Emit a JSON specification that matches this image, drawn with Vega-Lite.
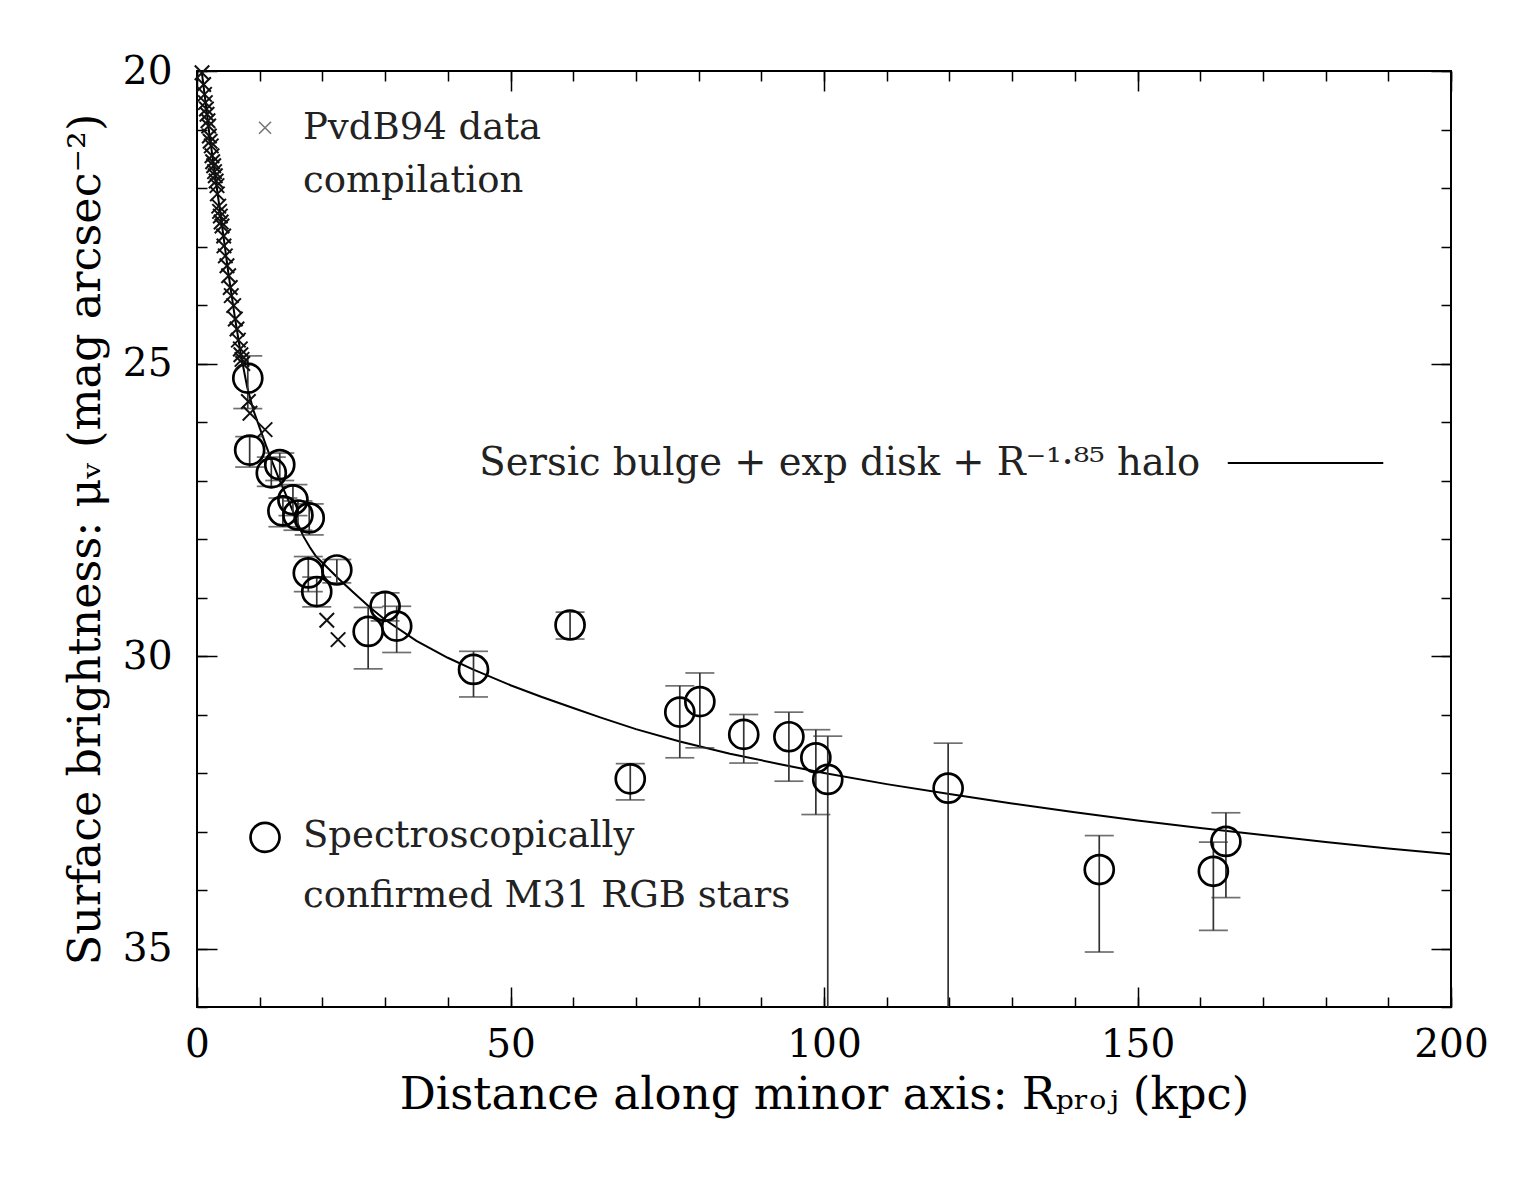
{
  "$schema": "https://vega.github.io/schema/vega-lite/v6.json",
  "width": 1254,
  "height": 936,
  "autosize": {"type": "none"},
  "padding": {"left": 197, "top": 71, "right": 88, "bottom": 171},
  "background": "white",
  "config": {
    "view": {"stroke": "black", "strokeWidth": 2},
    "font": "DejaVu Serif",
    "axis": {"domain": false, "grid": false, "tickColor": "black", "tickWidth": 1.5, "labelFlush": false, "labelOverlap": false}
  },
  "datasets": {
    "model": [
      {"R": 0.3, "mu": 19.6}, {"R": 0.8, "mu": 20.05}, {"R": 1.5, "mu": 20.65}, {"R": 2, "mu": 21.1},
      {"R": 3, "mu": 21.87}, {"R": 4, "mu": 22.65}, {"R": 5, "mu": 23.45}, {"R": 6, "mu": 24.18},
      {"R": 7, "mu": 24.85}, {"R": 8, "mu": 25.4}, {"R": 9, "mu": 25.8}, {"R": 10, "mu": 26.1},
      {"R": 11, "mu": 26.4}, {"R": 12, "mu": 26.68}, {"R": 13, "mu": 26.95}, {"R": 14, "mu": 27.2},
      {"R": 15, "mu": 27.45}, {"R": 16, "mu": 27.72}, {"R": 17, "mu": 27.96}, {"R": 18, "mu": 28.14},
      {"R": 19, "mu": 28.3}, {"R": 20.7, "mu": 28.48}, {"R": 22.5, "mu": 28.67}, {"R": 25, "mu": 28.92},
      {"R": 27.6, "mu": 29.17}, {"R": 30, "mu": 29.38}, {"R": 35, "mu": 29.74}, {"R": 40, "mu": 30.03},
      {"R": 44, "mu": 30.23}, {"R": 50, "mu": 30.5}, {"R": 55, "mu": 30.7}, {"R": 60, "mu": 30.89},
      {"R": 64.3, "mu": 31.05}, {"R": 70, "mu": 31.25}, {"R": 77, "mu": 31.46}, {"R": 85, "mu": 31.67},
      {"R": 93, "mu": 31.85}, {"R": 100, "mu": 32.0}, {"R": 110, "mu": 32.19}, {"R": 120, "mu": 32.36},
      {"R": 130, "mu": 32.52}, {"R": 140, "mu": 32.67}, {"R": 150, "mu": 32.81}, {"R": 160, "mu": 32.94},
      {"R": 170, "mu": 33.06}, {"R": 180, "mu": 33.18}, {"R": 190, "mu": 33.29}, {"R": 200, "mu": 33.39}
    ],
    "stars": [
      {"R": 8.1, "mu": 25.25, "hi": 24.87, "lo": 25.77},
      {"R": 8.4, "mu": 26.48, "hi": 26.25, "lo": 26.77},
      {"R": 13.2, "mu": 26.73, "hi": 26.53, "lo": 27.0},
      {"R": 11.85, "mu": 26.87, "hi": 26.6, "lo": 27.1},
      {"R": 15.3, "mu": 27.33, "hi": 27.07, "lo": 27.6},
      {"R": 13.7, "mu": 27.52, "hi": 27.3, "lo": 27.79},
      {"R": 16.1, "mu": 27.59, "hi": 27.35, "lo": 27.85},
      {"R": 17.9, "mu": 27.64, "hi": 27.4, "lo": 27.93},
      {"R": 17.75, "mu": 28.58, "hi": 28.3, "lo": 28.9},
      {"R": 22.3, "mu": 28.53, "hi": 28.35, "lo": 28.75},
      {"R": 19.1, "mu": 28.9, "hi": 28.65, "lo": 29.16},
      {"R": 30.0, "mu": 29.15, "hi": 28.92, "lo": 29.4},
      {"R": 27.3, "mu": 29.58, "hi": 29.17, "lo": 30.22},
      {"R": 31.85, "mu": 29.49, "hi": 29.15, "lo": 29.94},
      {"R": 44.1, "mu": 30.23, "hi": 29.92, "lo": 30.7},
      {"R": 59.5, "mu": 29.47, "hi": 29.25, "lo": 29.71},
      {"R": 69.1, "mu": 32.1, "hi": 31.84, "lo": 32.46},
      {"R": 77.0, "mu": 30.96, "hi": 30.51, "lo": 31.74},
      {"R": 80.2, "mu": 30.78, "hi": 30.29, "lo": 31.57},
      {"R": 87.2, "mu": 31.34, "hi": 31.0, "lo": 31.83},
      {"R": 94.4, "mu": 31.38, "hi": 30.96, "lo": 32.14},
      {"R": 98.7, "mu": 31.74, "hi": 31.26, "lo": 32.71},
      {"R": 100.6, "mu": 32.11, "hi": 31.37, "lo": 36.5},
      {"R": 119.8, "mu": 32.26, "hi": 31.49, "lo": 36.5},
      {"R": 143.9, "mu": 33.65, "hi": 33.07, "lo": 35.06},
      {"R": 162.1, "mu": 33.68, "hi": 33.18, "lo": 34.69},
      {"R": 164.1, "mu": 33.17, "hi": 32.68, "lo": 34.13}
    ],
    "pvdb": [
      {"R": 0.8, "mu": 20.03}, {"R": 1.06, "mu": 20.23}, {"R": 1.2, "mu": 20.4}, {"R": 1.33, "mu": 20.54},
      {"R": 1.5, "mu": 20.65}, {"R": 1.6, "mu": 20.74}, {"R": 1.75, "mu": 20.85}, {"R": 1.86, "mu": 20.94},
      {"R": 1.97, "mu": 21.11}, {"R": 2.1, "mu": 21.2}, {"R": 2.28, "mu": 21.28}, {"R": 2.39, "mu": 21.45},
      {"R": 2.5, "mu": 21.55}, {"R": 2.66, "mu": 21.62}, {"R": 2.8, "mu": 21.72}, {"R": 2.92, "mu": 21.79},
      {"R": 3.05, "mu": 21.88}, {"R": 3.19, "mu": 21.96}, {"R": 3.25, "mu": 22.1}, {"R": 3.46, "mu": 22.31},
      {"R": 3.6, "mu": 22.4}, {"R": 3.72, "mu": 22.48}, {"R": 3.85, "mu": 22.58}, {"R": 3.99, "mu": 22.65},
      {"R": 4.25, "mu": 22.82}, {"R": 4.3, "mu": 22.99}, {"R": 4.52, "mu": 23.16}, {"R": 4.78, "mu": 23.33},
      {"R": 5.05, "mu": 23.5}, {"R": 5.3, "mu": 23.7}, {"R": 5.47, "mu": 23.84}, {"R": 5.85, "mu": 24.01},
      {"R": 6.11, "mu": 24.24}, {"R": 6.38, "mu": 24.41}, {"R": 6.6, "mu": 24.6}, {"R": 6.91, "mu": 24.75},
      {"R": 7.0, "mu": 24.85}, {"R": 7.18, "mu": 24.93}, {"R": 7.3, "mu": 25.0}, {"R": 8.2, "mu": 25.65},
      {"R": 8.45, "mu": 25.85}, {"R": 10.85, "mu": 26.13}, {"R": 20.7, "mu": 29.39}, {"R": 22.5, "mu": 29.72}
    ]
  },
  "resolve": {"axis": {"x": "independent", "y": "independent"}},
  "layer": [
    {
      "data": {"name": "model"},
      "mark": {"type": "line", "color": "black", "strokeWidth": 2, "clip": true},
      "encoding": {
        "x": {
          "field": "R", "type": "quantitative",
          "scale": {"domain": [0, 200], "nice": false},
          "axis": {
            "orient": "bottom", "values": [0, 50, 100, 150, 200],
            "offset": -20, "tickSize": 20,
            "labelPadding": 18, "labelFontSize": 39, "labelFont": "DejaVu Serif", "labelColor": "black",
            "title": "Distance along minor axis: Rₚᵣₒⱼ (kpc)",
            "titleFont": "DejaVu Serif", "titleFontSize": 45, "titleFontWeight": "normal", "titleColor": "black",
            "titlePadding": 8
          }
        },
        "y": {
          "field": "mu", "type": "quantitative",
          "scale": {"domain": [20, 36], "nice": false, "zero": false, "reverse": true},
          "axis": {
            "orient": "left", "values": [20, 25, 30, 35],
            "offset": -20, "tickSize": 20,
            "labelPadding": 25, "labelFontSize": 39, "labelFont": "DejaVu Serif", "labelColor": "black",
            "title": "Surface brightness: μᵥ (mag arcsec⁻²)",
            "titleFont": "DejaVu Serif", "titleFontSize": 44.5, "titleFontWeight": "normal", "titleColor": "black",
            "titlePadding": 14
          }
        }
      }
    },
    {
      "data": {"name": "stars"},
      "mark": {"type": "rule", "color": "#333333", "strokeWidth": 1.7, "clip": true},
      "encoding": {
        "x": {
          "field": "R", "type": "quantitative", "scale": {"domain": [0, 200], "nice": false},
          "axis": {
            "orient": "bottom",
            "values": [0, 10, 20, 30, 40, 50, 60, 70, 80, 90, 100, 110, 120, 130, 140, 150, 160, 170, 180, 190, 200],
            "offset": -10, "tickSize": 10, "labels": false, "title": null
          }
        },
        "y": {
          "field": "hi", "type": "quantitative", "scale": {"domain": [20, 36], "nice": false, "zero": false, "reverse": true},
          "axis": {
            "orient": "left",
            "values": [20, 21, 22, 23, 24, 25, 26, 27, 28, 29, 30, 31, 32, 33, 34, 35, 36],
            "offset": -10, "tickSize": 10, "labels": false, "title": null
          }
        },
        "y2": {"field": "lo"}
      }
    },
    {
      "data": {"name": "stars"},
      "mark": {"type": "tick", "orient": "horizontal", "color": "#333333", "size": 29, "thickness": 1.7, "clip": true},
      "encoding": {
        "x": {"field": "R", "type": "quantitative", "scale": {"domain": [0, 200], "nice": false}, "axis": null},
        "y": {"field": "hi", "type": "quantitative", "scale": {"domain": [20, 36], "nice": false, "zero": false, "reverse": true}, "axis": null}
      }
    },
    {
      "data": {"name": "stars"},
      "mark": {"type": "tick", "orient": "horizontal", "color": "#333333", "size": 29, "thickness": 1.7, "clip": true},
      "encoding": {
        "x": {"field": "R", "type": "quantitative", "scale": {"domain": [0, 200], "nice": false}, "axis": null},
        "y": {"field": "lo", "type": "quantitative", "scale": {"domain": [20, 36], "nice": false, "zero": false, "reverse": true}, "axis": null}
      }
    },
    {
      "data": {"name": "stars"},
      "mark": {"type": "point", "shape": "circle", "filled": false, "color": "black", "size": 841, "strokeWidth": 2.7, "opacity": 1},
      "encoding": {
        "x": {
          "field": "R", "type": "quantitative", "scale": {"domain": [0, 200], "nice": false},
          "axis": {
            "orient": "top",
            "values": [0, 10, 20, 30, 40, 50, 60, 70, 80, 90, 100, 110, 120, 130, 140, 150, 160, 170, 180, 190, 200],
            "offset": -10, "tickSize": 10, "labels": false, "title": null
          }
        },
        "y": {
          "field": "mu", "type": "quantitative", "scale": {"domain": [20, 36], "nice": false, "zero": false, "reverse": true},
          "axis": {
            "orient": "right",
            "values": [20, 21, 22, 23, 24, 25, 26, 27, 28, 29, 30, 31, 32, 33, 34, 35, 36],
            "offset": -10, "tickSize": 10, "labels": false, "title": null
          }
        }
      }
    },
    {
      "data": {"name": "pvdb"},
      "mark": {"type": "point", "shape": "M-1,-1L1,1M1,-1L-1,1", "filled": false, "color": "#111111", "size": 210, "strokeWidth": 2, "opacity": 1},
      "encoding": {
        "x": {
          "field": "R", "type": "quantitative", "scale": {"domain": [0, 200], "nice": false},
          "axis": {"orient": "top", "values": [0, 50, 100, 150, 200], "offset": -20, "tickSize": 20, "labels": false, "title": null}
        },
        "y": {
          "field": "mu", "type": "quantitative", "scale": {"domain": [20, 36], "nice": false, "zero": false, "reverse": true},
          "axis": {"orient": "right", "values": [20, 25, 30, 35], "offset": -20, "tickSize": 20, "labels": false, "title": null}
        }
      }
    },
    {
      "data": {"values": [{"key": "PvdB94"}]},
      "mark": {"type": "point", "shape": "M-1,-1L1,1M1,-1L-1,1", "filled": false, "color": "#777777", "size": 144, "strokeWidth": 1.6, "opacity": 1},
      "encoding": {
        "x": {"datum": 10.85, "type": "quantitative", "scale": {"domain": [0, 200], "nice": false}, "axis": null},
        "y": {"datum": 20.97, "type": "quantitative", "scale": {"domain": [20, 36], "nice": false, "zero": false, "reverse": true}, "axis": null}
      }
    },
    {
      "data": {"values": [{"label": "PvdB94 data"}]},
      "mark": {"type": "text", "align": "left", "baseline": "middle", "font": "DejaVu Serif", "fontSize": 37, "color": "#222222"},
      "encoding": {
        "x": {"datum": 16.9, "type": "quantitative", "scale": {"domain": [0, 200], "nice": false}, "axis": null},
        "y": {"datum": 20.97, "type": "quantitative", "scale": {"domain": [20, 36], "nice": false, "zero": false, "reverse": true}, "axis": null},
        "text": {"field": "label"}
      }
    },
    {
      "data": {"values": [{"label": "compilation"}]},
      "mark": {"type": "text", "align": "left", "baseline": "middle", "font": "DejaVu Serif", "fontSize": 37, "color": "#222222"},
      "encoding": {
        "x": {"datum": 16.9, "type": "quantitative", "scale": {"domain": [0, 200], "nice": false}, "axis": null},
        "y": {"datum": 21.88, "type": "quantitative", "scale": {"domain": [20, 36], "nice": false, "zero": false, "reverse": true}, "axis": null},
        "text": {"field": "label"}
      }
    },
    {
      "data": {"values": [{"key": "RGB"}]},
      "mark": {"type": "point", "shape": "circle", "filled": false, "color": "black", "size": 841, "strokeWidth": 2.7, "opacity": 1},
      "encoding": {
        "x": {"datum": 10.85, "type": "quantitative", "scale": {"domain": [0, 200], "nice": false}, "axis": null},
        "y": {"datum": 33.1, "type": "quantitative", "scale": {"domain": [20, 36], "nice": false, "zero": false, "reverse": true}, "axis": null}
      }
    },
    {
      "data": {"values": [{"label": "Spectroscopically"}]},
      "mark": {"type": "text", "align": "left", "baseline": "middle", "font": "DejaVu Serif", "fontSize": 37, "color": "#222222"},
      "encoding": {
        "x": {"datum": 16.9, "type": "quantitative", "scale": {"domain": [0, 200], "nice": false}, "axis": null},
        "y": {"datum": 33.07, "type": "quantitative", "scale": {"domain": [20, 36], "nice": false, "zero": false, "reverse": true}, "axis": null},
        "text": {"field": "label"}
      }
    },
    {
      "data": {"values": [{"label": "confirmed M31 RGB stars"}]},
      "mark": {"type": "text", "align": "left", "baseline": "middle", "font": "DejaVu Serif", "fontSize": 37, "color": "#222222"},
      "encoding": {
        "x": {"datum": 16.9, "type": "quantitative", "scale": {"domain": [0, 200], "nice": false}, "axis": null},
        "y": {"datum": 34.1, "type": "quantitative", "scale": {"domain": [20, 36], "nice": false, "zero": false, "reverse": true}, "axis": null},
        "text": {"field": "label"}
      }
    },
    {
      "data": {"values": [{"label": "Sersic bulge + exp disk + R⁻¹·⁸⁵ halo"}]},
      "mark": {"type": "text", "align": "right", "baseline": "middle", "font": "DejaVu Serif", "fontSize": 38.5, "color": "#222222"},
      "encoding": {
        "x": {"datum": 160, "type": "quantitative", "scale": {"domain": [0, 200], "nice": false}, "axis": null},
        "y": {"datum": 26.7, "type": "quantitative", "scale": {"domain": [20, 36], "nice": false, "zero": false, "reverse": true}, "axis": null},
        "text": {"field": "label"}
      }
    },
    {
      "data": {"values": [{"key": "model"}]},
      "mark": {"type": "rule", "color": "black", "strokeWidth": 2},
      "encoding": {
        "x": {"datum": 164.4, "type": "quantitative", "scale": {"domain": [0, 200], "nice": false}, "axis": null},
        "x2": {"datum": 189.2},
        "y": {"datum": 26.7, "type": "quantitative", "scale": {"domain": [20, 36], "nice": false, "zero": false, "reverse": true}, "axis": null}
      }
    }
  ]
}
